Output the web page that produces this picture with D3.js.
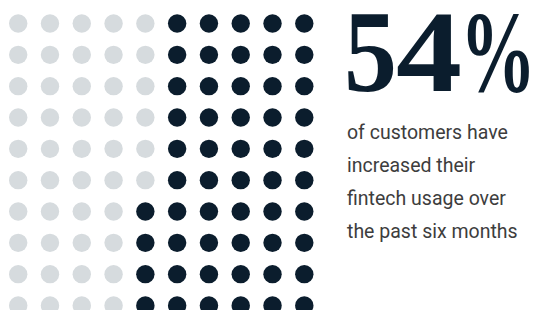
<!DOCTYPE html>
<html>
<head>
<meta charset="utf-8">
<script src="https://cdn.jsdelivr.net/npm/d3@7"></script>
<style>
html, body { margin: 0; padding: 0; background: #ffffff; }
svg { display: block; }
</style>
</head>
<body>
<div id="chart"></div>
<script>
// ---- data ----
const percentValue = [54];
const gridRows = [0, 1, 2, 3, 4, 5, 6, 7, 8, 9];
const gridCols = [0, 1, 2, 3, 4, 5, 6, 7, 8, 9];
const headlineChars = ["5", "4", "%"];
const captionLines = ["of customers have", "increased their", "fintech usage over", "the past six months"];

const W = 542, H = 310;
const darkColor = "#0b1d2d";
const greyColor = "#d6dbde";

const svg = d3.select("#chart").append("svg")
  .attr("width", W).attr("height", H);

// scales for the dot grid
const x = d3.scaleLinear().domain([0, 9]).range([18.2, 304.3]);
const y = d3.scaleLinear().domain([0, 9]).range([23.5, 305.5]);
const r = 9.2;

const cells = [];
gridRows.forEach(row => gridCols.forEach(col => {
  // filled column by column from the right, bottom to top
  const rank = (gridCols.length - 1 - col) * gridRows.length + (gridRows.length - 1 - row);
  cells.push({ row, col, filled: rank < percentValue[0] });
}));

svg.append("g").selectAll("circle")
  .data(cells)
  .join("circle")
  .attr("cx", d => x(d.col))
  .attr("cy", d => y(d.row))
  .attr("r", r)
  .attr("fill", d => d.filled ? darkColor : greyColor);

// headline: each glyph fitted to its box
const glyphBoxes = [[344, 397], [396, 462], [460, 536]];
const hg = svg.append("g");
headlineChars.forEach((ch, i) => {
  const t = hg.append("text")
    .attr("x", 0)
    .attr("y", 0)
    .attr("font-family", "'Liberation Serif', serif")
    .attr("font-weight", "bold")
    .attr("font-size", 117)
    .attr("fill", darkColor)
    .text(ch);
  const bb = t.node().getBBox();
  const [x0, x1] = glyphBoxes[i];
  const s = (x1 - x0) / bb.width;
  t.attr("transform", `translate(${x0 - bb.x * s},91) scale(${s},1)`);
});

// caption
svg.append("g").selectAll("text")
  .data(captionLines)
  .join("text")
  .attr("x", 347)
  .attr("y", (d, i) => 139 + i * 33.1)
  .attr("font-family", "Roboto, 'Noto Sans', sans-serif")
  .attr("font-size", 19.5)
  .attr("fill", "#3d3d3d")
  .text(d => d);
</script>
</body>
</html>
